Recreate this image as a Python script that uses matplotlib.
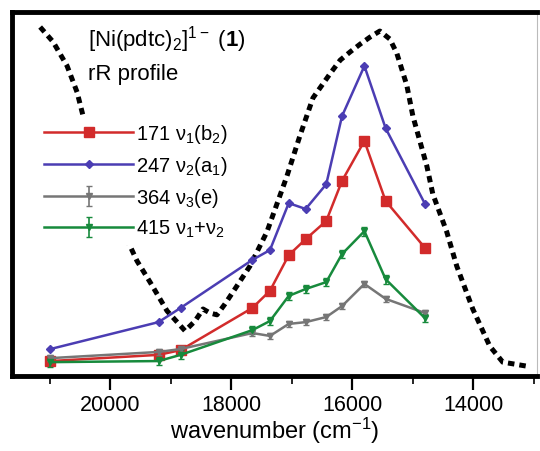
import matplotlib
matplotlib.use("Agg")
import matplotlib.pyplot as plt
import matplotlib.ticker as ticker

plt.rcParams["font.family"] = ["Liberation Sans", "DejaVu Sans"]
plt.rcParams["mathtext.fontset"] = "custom"
plt.rcParams["mathtext.rm"] = "Liberation Sans"
plt.rcParams["mathtext.it"] = "Liberation Sans"
plt.rcParams["mathtext.bf"] = "Liberation Sans:bold"

# excitation wavenumbers (cm-1) of the rR profile points
wn = [20986, 19200, 18836, 17650, 17360, 17050, 16770, 16430, 16170, 15800, 15450, 14800]
# relative intensities
v171 = [4.1, 5.8, 7.1, 18.7, 23.4, 33.2, 37.6, 42.6, 53.6, 64.6, 48.1, 35.2]
v247 = [7.4, 14.8, 18.7, 31.9, 34.6, 47.5, 45.9, 52.7, 71.4, 85.2, 68.1, 47.3]
v364 = [4.9, 6.6, 7.4, 11.8, 11.0, 14.3, 14.8, 16.2, 19.2, 25.3, 21.2, 17.3]
v415 = [3.8, 4.1, 5.8, 12.6, 15.1, 22.0, 23.9, 25.8, 33.5, 39.8, 26.6, 15.9]
err364 = [0.8] * 12
err415 = [1.2] * 12

# absorption profile (dashed)
abs_wn = [21155, 20940, 20710, 20545, 20445, 20250, 20000, 19785, 19555, 19340, 19060,
          18762, 18597, 18465, 18350, 18235, 18102, 17970, 17690, 17410, 17080, 16865,
          16650, 16370, 16200, 16040, 15870, 15710, 15545, 15380, 15265, 15100, 14999,
          14769, 14670, 14440, 14275, 14010, 13730, 13515, 13120]
abs_y = [95.9, 91.8, 85.2, 78.0, 71.4, 62.4, 51.4, 39.8, 31.6, 25.8, 17.9,
         12.4, 15.1, 18.4, 17.3, 16.8, 19.8, 23.1, 30.2, 39.6, 54.9, 66.0,
         76.4, 83.0, 86.8, 89.0, 91.2, 93.1, 94.8, 92.6, 88.7, 79.9, 71.4,
         57.7, 50.0, 39.6, 30.2, 18.4, 8.2, 3.8, 2.7]

labels = [r"171 $\nu_1$(b$_2$)", r"247 $\nu_2$(a$_1$)", r"364 $\nu_3$(e)", r"415 $\nu_1$+$\nu_2$"]

fig = plt.figure(figsize=(5.4, 4.52), dpi=100)
ax = fig.add_axes([0.0222, 0.166, 0.9722, 0.805])

ax.plot(abs_wn, abs_y, color="black", lw=3.6, linestyle=(0, (1.3, 1.0)),
        dash_capstyle="butt", zorder=2)

ax.plot(wn, v171, color="#d22b2b", lw=1.8, marker="s", ms=6.5, label=labels[0], zorder=3)
ax.plot(wn, v247, color="#4b3db3", lw=1.8, marker="D", ms=4.5, label=labels[1], zorder=3)
ax.errorbar(wn, v364, yerr=err364, color="#767676", lw=1.8, marker="v", ms=5,
            capsize=2.5, elinewidth=1.2, label=labels[2], zorder=3)
ax.errorbar(wn, v415, yerr=err415, color="#178a3c", lw=1.8, marker="v", ms=5,
            capsize=2.5, elinewidth=1.2, label=labels[3], zorder=3)

ax.set_xlim(21620, 12950)
ax.set_ylim(0, 100)

for side in ["left", "top", "bottom"]:
    ax.spines[side].set_linewidth(3.5)
ax.spines["right"].set_linewidth(0.8)
ax.spines["right"].set_color("#bbbbbb")

ax.yaxis.set_visible(False)
ax.xaxis.set_major_locator(ticker.MultipleLocator(2000))
ax.xaxis.set_minor_locator(ticker.MultipleLocator(1000))
ax.tick_params(axis="x", which="major", length=10, width=1.6, direction="out",
               labelsize=15.5, pad=3)
ax.tick_params(axis="x", which="minor", length=6, width=1.2, direction="out")
ax.set_xlabel(r"wavenumber (cm$^{-1}$)", fontsize=17, labelpad=0)

ax.text(0.145, 0.926, r"[Ni(pdtc)$_2$]$^{1-}$ ($\mathbf{1}$)", transform=ax.transAxes,
        fontsize=16, va="center", ha="left")
ax.text(0.145, 0.83, "rR profile", transform=ax.transAxes,
        fontsize=16, va="center", ha="left")

leg = ax.legend(loc="upper left", bbox_to_anchor=(0.05, 0.715), borderaxespad=0,
                fontsize=14.5, handlelength=4.4, handletextpad=0.15, labelspacing=0.45,
                borderpad=0.3, frameon=True, fancybox=False)
leg.get_frame().set_facecolor("white")
leg.get_frame().set_edgecolor("none")
leg.get_frame().set_alpha(1.0)

plt.savefig("out.png", dpi=100)
plt.close(fig)
